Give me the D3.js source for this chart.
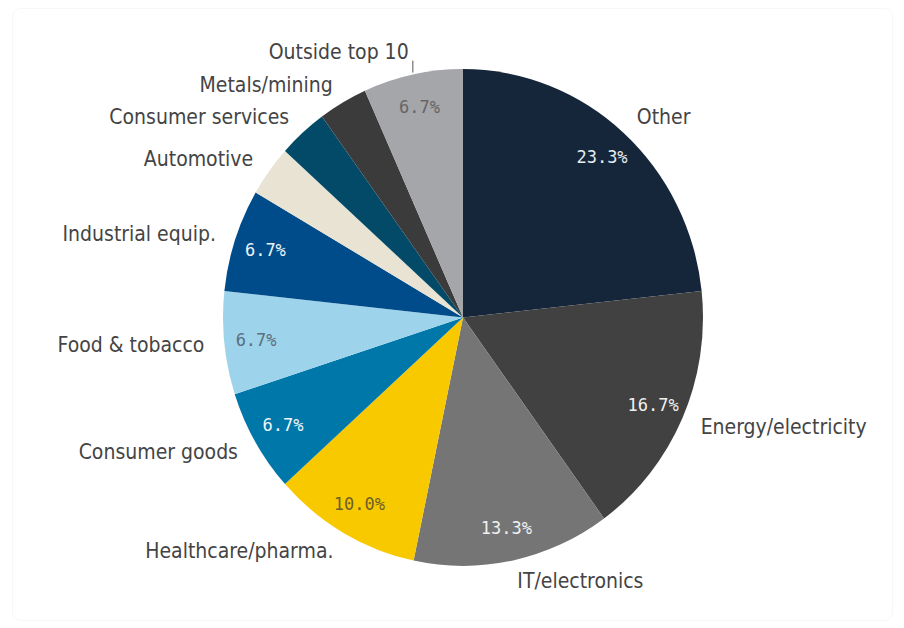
<!DOCTYPE html>
<html>
<head>
<meta charset="utf-8">
<script src="https://cdn.jsdelivr.net/npm/d3@7"></script>
<style>
  html, body { margin: 0; padding: 0; background: #ffffff; }
  svg { display: block; }
  .outer-label { font-family: "DejaVu Sans Condensed", "DejaVu Sans", sans-serif; font-stretch: condensed; fill: #444444; }
  .pct-label { font-family: "DejaVu Sans Mono", monospace; }
</style>
</head>
<body>
<svg id="chart" width="904" height="628"></svg>
<script>
// Sector shares (%)
const categories = [
  "Other", "Energy/electricity", "IT/electronics", "Healthcare/pharma.",
  "Consumer goods", "Food & tobacco", "Industrial equip.", "Automotive",
  "Consumer services", "Metals/mining", "Outside top 10"
];
const shares = [23.3, 16.7, 13.3, 10.0, 6.7, 6.7, 6.7, 3.3, 3.3, 3.3, 6.7];
const sliceColors = [
  "#15253a", "#414141", "#757575", "#f9c900",
  "#0077a9", "#9dd4ec", "#004c8b", "#e8e3d3",
  "#024a67", "#3b3b3b", "#a5a6aa"
];
const pctTextColors = [
  "#e6edf3", "#f0f0f0", "#f0f0f0", "#6e5f2a",
  "#f0f6fa", "#5d6e7c", "#eef3f9", "#444",
  "#eee", "#eee", "#656565"
];
// Only slices at least this large carry an inside value label
const minInsideLabel = 5;
// Labels that get a short leader tick
const leaderLabels = ["Outside top 10"];

const data = categories.map((c, i) => ({ name: c, value: shares[i], color: sliceColors[i], pctColor: pctTextColors[i] }));

const svg = d3.select("#chart");
const cx = 463, cy = 317.5, radius = 240, yStretch = 1.035;

// faint frame
svg.append("rect")
  .attr("x", 12.5).attr("y", 8.5).attr("width", 880).attr("height", 612)
  .attr("rx", 8).attr("fill", "none").attr("stroke", "#f7f7f7").attr("stroke-width", 1);

const pie = d3.pie().sort(null).value(d => d.value);
const arcs = pie(data);
const arc = d3.arc().innerRadius(0).outerRadius(radius);
const pctArc = d3.arc().innerRadius(208).outerRadius(208);
const labelArc = d3.arc().innerRadius(260).outerRadius(260);

const g = svg.append("g").attr("transform", `translate(${cx},${cy}) scale(1,${yStretch})`);
g.selectAll("path.slice")
  .data(arcs)
  .join("path")
  .attr("class", "slice")
  .attr("d", arc)
  .attr("fill", d => d.data.color);

const toScreen = p => [cx + p[0], cy + p[1] * yStretch];

// inside percentage labels
svg.append("g").selectAll("text")
  .data(arcs.filter(d => d.data.value >= minInsideLabel))
  .join("text")
  .attr("class", "pct-label")
  .attr("x", d => toScreen(pctArc.centroid(d))[0])
  .attr("y", d => toScreen(pctArc.centroid(d))[1])
  .attr("text-anchor", "middle")
  .attr("dominant-baseline", "central")
  .attr("font-size", 17)
  .attr("fill", d => d.data.pctColor)
  .text(d => d.data.value.toFixed(1) + "%");

// category labels
const midAngle = d => (d.startAngle + d.endAngle) / 2;
svg.append("g").selectAll("text")
  .data(arcs)
  .join("text")
  .attr("class", "outer-label")
  .attr("x", d => toScreen(labelArc.centroid(d))[0])
  .attr("y", d => toScreen(labelArc.centroid(d))[1] - (leaderLabels.includes(d.data.name) ? 2 : 0))
  .attr("text-anchor", d => midAngle(d) < Math.PI ? "start" : "end")
  .attr("dominant-baseline", "central")
  .attr("font-size", 21)
  .text(d => d.data.name);

// leader ticks
const edgeArc = d3.arc().innerRadius(radius).outerRadius(radius);
svg.append("g").selectAll("line")
  .data(arcs.filter(d => leaderLabels.includes(d.data.name)))
  .join("line")
  .attr("x1", d => toScreen(edgeArc.centroid(d))[0])
  .attr("x2", d => toScreen(edgeArc.centroid(d))[0])
  .attr("y1", d => toScreen(edgeArc.centroid(d))[1] - 2)
  .attr("y2", d => toScreen(edgeArc.centroid(d))[1] - 14)
  .attr("stroke", "#555")
  .attr("stroke-width", 1);
</script>
</body>
</html>
